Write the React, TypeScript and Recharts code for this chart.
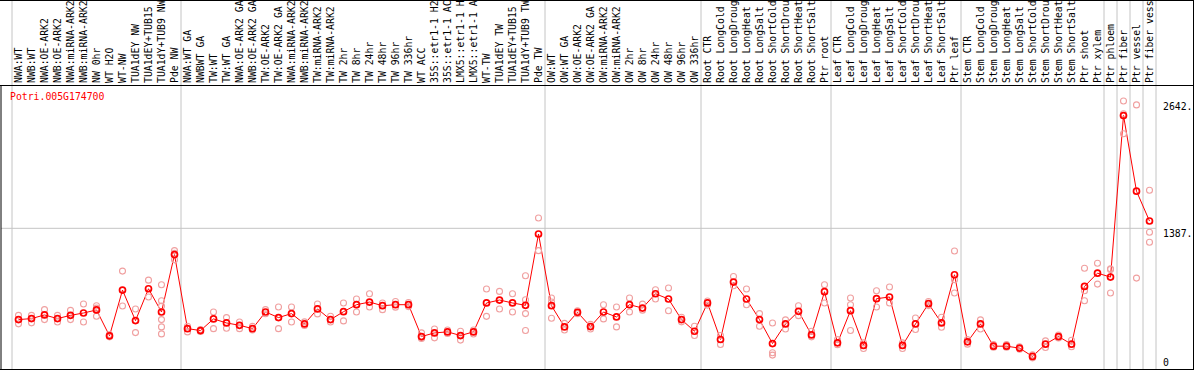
import React from "react";
import {
  ComposedChart,
  Line,
  Scatter,
  XAxis,
  YAxis,
  ReferenceLine,
} from "recharts";

const geneName = "Potri.005G174700";

const categories = [
  "NWA:WT", "NWB:WT", "NWA:OE-ARK2", "NWB:OE-ARK2", "NWA:miRNA-ARK2", "NWB:miRNA-ARK2",
  "NW 0hr", "WT H2O", "WT-NW", "TUA1dEY NW", "TUA1dEY+TUB15 NW", "TUA1dY+TUB9 NW", "Pde NW",
  "NWA:WT GA", "NWBWT GA", "TW:WT", "TW:WT GA", "NWA:OE-ARK2 GA", "NWB:OE-ARK2 GA",
  "TW:OE-ARK2", "TW:OE-ARK2 GA", "NWA:miRNA-ARK2", "NWB:miRNA-ARK2", "TW:miRNA-ARK2",
  "TW:miRNA-ARK2", "TW 2hr", "TW 8hr", "TW 24hr", "TW 48hr", "TW 96hr", "TW 336hr", "WT ACC",
  "35S::etr1-1 H2O", "35S::etr1-1 ACC", "LMX5::etr1-1 H2O", "LMX5::etr1-1 ACC", "WT-TW",
  "TUA1dEY TW", "TUA1dEY+TUB15 TW", "TUA1dY+TUB9 TW", "Pde TW",
  "OW:WT", "OW:WT GA", "OW:OE-ARK2", "OW:OE-ARK2 GA", "OW:miRNA-ARK2", "OW:miRNA-ARK2",
  "OW 2hr", "OW 8hr", "OW 24hr", "OW 48hr", "OW 96hr", "OW 336hr",
  "Root CTR", "Root LongCold", "Root LongDrought", "Root LongHeat", "Root LongSalt",
  "Root ShortCold", "Root ShortDrought", "Root ShortHeat", "Root ShortSalt", "Ptr root",
  "Leaf CTR", "Leaf LongCold", "Leaf LongDrought", "Leaf LongHeat", "Leaf LongSalt",
  "Leaf ShortCold", "Leaf ShortDrought", "Leaf ShortHeat", "Leaf ShortSalt", "Ptr leaf",
  "Stem CTR", "Stem LongCold", "Stem LongDrought", "Stem LongHeat", "Stem LongSalt",
  "Stem ShortCold", "Stem ShortDrought", "Stem ShortHeat", "Stem ShortSalt",
  "Ptr shoot", "Ptr xylem", "Ptr phloem", "Ptr fiber", "Ptr vessel", "Ptr fiber vessel",
];

const means = [
  487, 497, 533, 497, 529, 552, 582, 327, 778, 477, 791, 562, 1128,
  398, 379, 494, 454, 431, 398, 562, 507, 546, 444, 592, 487, 565, 634, 660, 624, 634, 634,
  320, 356, 366, 330, 366, 651, 680, 651, 628, 1331,
  624, 415, 559, 418, 562, 513, 634, 601, 742, 690, 487, 372,
  651, 291, 857, 690, 487, 251, 444, 569, 336, 762,
  258, 575, 232, 693, 710, 232, 444, 644, 454, 929,
  268, 444, 225, 225, 206, 124, 245, 320, 245,
  814, 945, 906, 2499, 1753, 1459,
];

const replicates = [
  [529, 445], [529, 455], [585, 487], [529, 464], [578, 487], [641, 464], [624, 600, 520],
  [340, 317], [965, 621], [592, 359], [876, 710], [830, 673, 620, 487, 415, 346], [1167, 1076, 1140],
  [421, 366], [390, 370], [562, 398], [507, 402], [464, 398], [420, 385], [585, 545],
  [611, 398], [611, 464], [465, 430], [641, 543], [520, 464], [651, 474], [690, 562],
  [742, 611], [651, 585], [665, 610], [655, 615], [356, 307, 300], [395, 307], [385, 350],
  [372, 285], [385, 345], [788, 519], [765, 592], [742, 562], [919, 683, 546, 379], [1488, 1167],
  [700, 660, 500], [450, 385], [575, 545], [440, 395], [634, 494], [611, 415], [700, 562],
  [640, 580], [781, 690], [798, 575], [510, 465], [421, 330],
  [670, 630], [330, 241], [912, 821], [788, 634], [546, 421], [454, 160, 137], [484, 395],
  [624, 526], [372, 317], [830, 651],
  [290, 240], [700, 634, 379], [258, 202], [772, 611], [808, 651], [202, 258], [503, 389],
  [665, 625], [510, 412], [1164, 880, 749],
  [290, 245], [484, 395], [240, 215], [240, 215], [220, 195], [140, 110], [277, 212],
  [335, 305], [284, 219],
  [994, 772, 673], [1043, 837], [988, 981, 749], [2642, 2516, 2319], [2604, 896], [1763, 1348, 1249],
];

const yTickValues = [0, 1387, 2642];
const gridValue = 1387;
const yMax = 2800;
const groupStarts = [1, 14, 42, 54, 64, 74, 85, 86, 87, 88, 89];

const meanData = means.map((m, i) => ({ idx: i + 1, mean: m }));
const repData = replicates.flatMap((reps, i) => reps.map((v) => ({ idx: i + 1, val: v })));
const xTicks = categories.map((_, i) => i + 1);

const FONT = "'DejaVu Sans Mono', monospace";
const FS = 9.8;

const XTick = (props: any) => {
  const { x, y, payload } = props;
  return (
    <text
      transform={`translate(${x + 3.5},${y - 2}) rotate(-90)`}
      fontFamily={FONT}
      fontSize={FS}
      fill="#000"
      textAnchor="start"
    >
      {categories[payload.value - 1]}
    </text>
  );
};

const YTick = (props: any) => {
  const { x, y, payload } = props;
  const v = payload.value;
  return (
    <text x={x} y={v === 0 ? y - 3 : y + 9} fontFamily={FONT} fontSize={FS} fill="#000" textAnchor="start">
      {v === 0 ? "0" : `${v}.`}
    </text>
  );
};

const MeanDot = (props: any) => {
  const { cx, cy, index } = props;
  if (cx == null || cy == null) return <g key={`m${index}`} />;
  return <circle key={`m${index}`} cx={cx} cy={cy} r={3} fill="none" stroke="#ff0000" strokeWidth={1.7} />;
};

const RepDot = (props: any) => {
  const { cx, cy } = props;
  if (cx == null || cy == null) return <g />;
  return <circle cx={cx} cy={cy} r={3} fill="none" stroke="#f0a0a0" strokeWidth={1.1} />;
};

const VLine = (props: any) => {
  const { x1, x2, y1, y2 } = props;
  return <line x1={x1} x2={x2} y1={0} y2={Math.max(y1, y2)} stroke="#c4c4c4" strokeWidth={1} />;
};

export default function App() {
  return (
    <div style={{ position: "absolute", left: 0, top: 0, width: 1194, height: 370, background: "#fff", fontFamily: FONT }}>
      <ComposedChart
        width={1194}
        height={370}
        data={meanData}
        margin={{ top: 0, right: 0, bottom: 1, left: 0 }}
      >
        <XAxis
          dataKey="idx"
          type="number"
          orientation="top"
          domain={[0.5, 88.5]}
          allowDataOverflow
          ticks={xTicks}
          interval={0}
          height={85}
          padding={{ left: 11, right: 0 }}
          tickSize={0}
          tickMargin={0}
          tickLine={false}
          axisLine={false}
          tick={<XTick />}
        />
        <YAxis
          yAxisId="l"
          orientation="left"
          width={1}
          type="number"
          domain={[0, yMax]}
          allowDataOverflow
          tick={false}
          tickLine={false}
          axisLine={{ stroke: "#000", strokeWidth: 1 }}
        />
        <YAxis
          yAxisId="r"
          orientation="right"
          width={38}
          type="number"
          domain={[0, yMax]}
          allowDataOverflow
          ticks={yTickValues}
          interval={0}
          tickSize={0}
          tickMargin={7}
          tickLine={false}
          axisLine={false}
          tick={<YTick />}
        />
        <ReferenceLine yAxisId="r" y={gridValue} stroke="#c4c4c4" strokeWidth={1} />
        {groupStarts.map((s) => (
          <ReferenceLine key={`g${s}`} yAxisId="r" x={s - 0.5} shape={VLine} />
        ))}
        <Scatter
          yAxisId="r"
          data={repData}
          dataKey="val"
          shape={RepDot}
          isAnimationActive={false}
        />
        <Line
          yAxisId="r"
          dataKey="mean"
          stroke="#ff0000"
          strokeWidth={1}
          dot={MeanDot}
          activeDot={false}
          isAnimationActive={false}
        />
      </ComposedChart>
      <div
        style={{
          position: "absolute",
          left: 10,
          top: 92,
          fontFamily: FONT,
          fontSize: FS,
          lineHeight: "10px",
          color: "#ff0000",
          whiteSpace: "nowrap",
        }}
      >
        {geneName}
      </div>
      <div
        style={{
          position: "absolute",
          left: 0,
          top: 0,
          width: 1194,
          height: 370,
          boxSizing: "border-box",
          borderTop: "1px solid #000",
          borderRight: "1px solid #000",
          borderBottom: "1px solid #000",
          pointerEvents: "none",
        }}
      />
      <div style={{ position: "absolute", left: 0, top: 85, width: 1194, height: 1, background: "#000", pointerEvents: "none" }} />
    </div>
  );
}
